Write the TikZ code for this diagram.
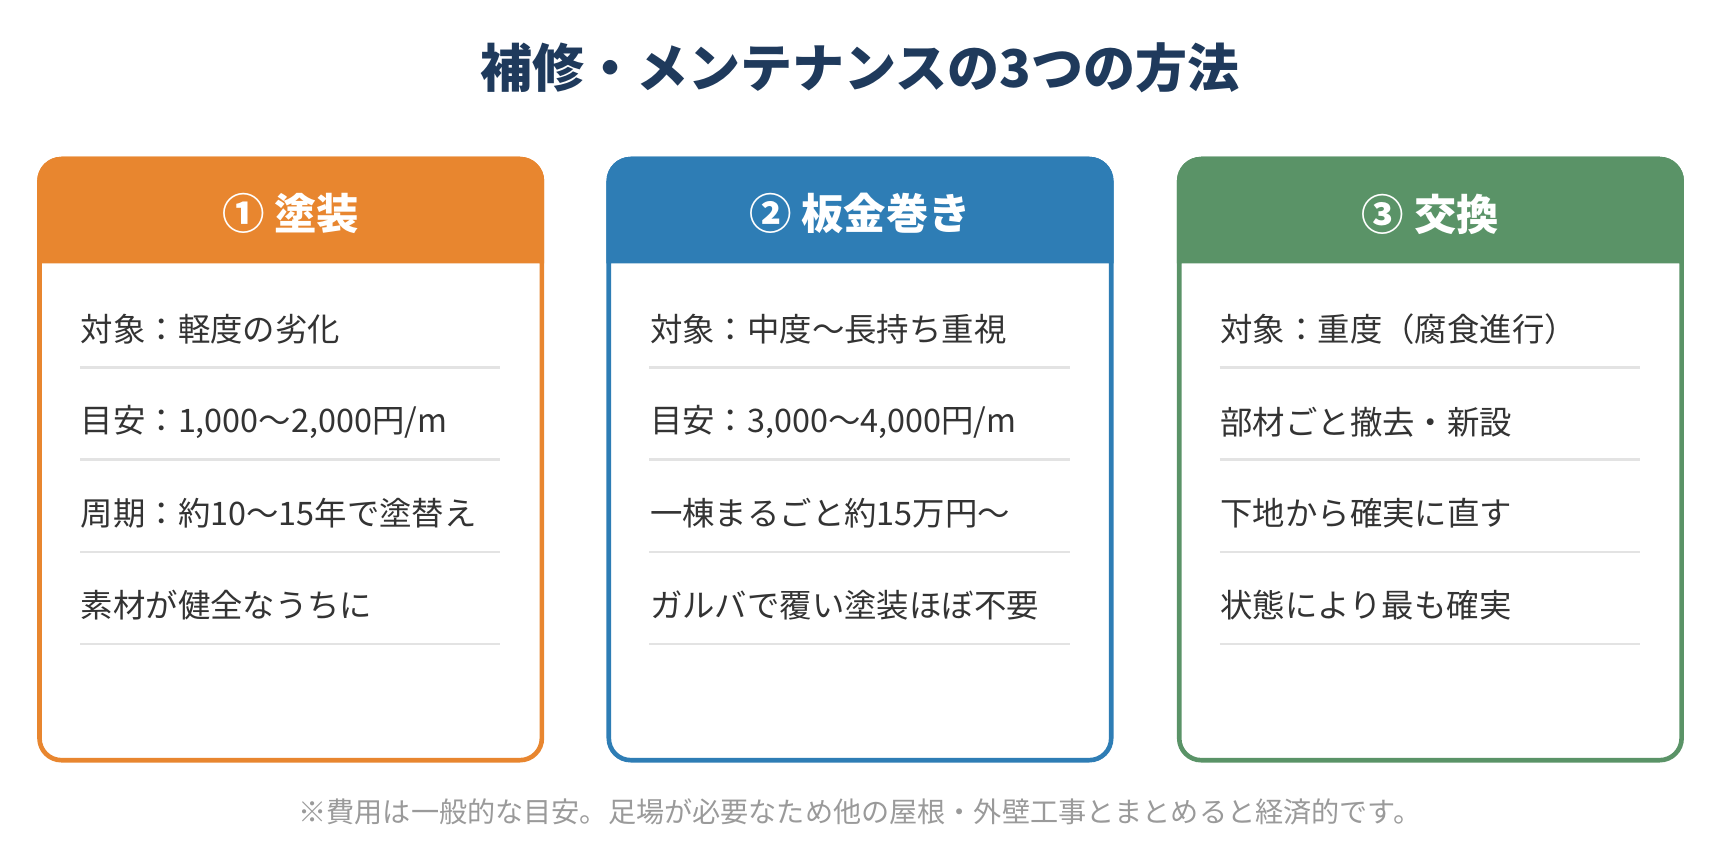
\documentclass[tikz,border=0pt]{standalone}
\usepackage{fontspec}
\setmainfont{Noto Sans CJK JP}
\definecolor{titlec}{HTML}{1F3A5C}
\definecolor{orgc}{HTML}{E8862F}
\definecolor{bluec}{HTML}{2E7DB5}
\definecolor{grnc}{HTML}{5A9367}
\definecolor{textc}{HTML}{333333}
\definecolor{rulec}{HTML}{E3E3E3}
\definecolor{notec}{HTML}{9A9A9A}
\tikzset{
  card/.style={line width=1.2pt, rounded corners=0.2cm, fill=white},
  headtext/.style={text=white, font=\bfseries\fontsize{11}{13}\selectfont},
  rowtext/.style={anchor=west, text=textc, font=\fontsize{8.4}{10}\selectfont, inner sep=0pt},
  rowline/.style={rulec, line width=0.6pt}
}
% #1 left x, #2 colour, #3 name, #4 header, #5-#8 rows
\newcommand\methodcard[8]{%
  \draw[card, draw=#2] (#1,0.91) rectangle ++(4.58,5.48);
  \fill[#2] (#1,5.44) [rounded corners=0.2cm] -- (#1,6.39) -- ++(4.58,0) [sharp corners] -- (#1+4.58,5.44) -- cycle;
  \draw[#2, line width=1.2pt, rounded corners=0.2cm] (#1,5.44) -- (#1,6.39) -- ++(4.58,0) -- (#1+4.58,5.44);
  \node[headtext] (#3h) at (#1+2.29,5.89) {#4};
  \node[rowtext] (#3a) at (#1+0.37,4.84) {#5};
  \node[rowtext] (#3b) at (#1+0.37,3.99) {#6};
  \node[rowtext] (#3c) at (#1+0.37,3.16) {#7};
  \node[rowtext] (#3d) at (#1+0.37,2.32) {#8};
  \foreach \y in {4.49,3.65,2.81,1.97}
    \draw[rowline] (#1+0.37,\y) -- (#1+4.20,\y);%
}
\begin{document}
\begin{tikzpicture}
\node[text=titlec, font=\bfseries\fontsize{13.5}{16}\selectfont] (title) at (7.84,7.22) {補修・メンテナンスの3つの方法};

\methodcard{0.36}{orgc}{paint}{① 塗装}{対象：軽度の劣化}{目安：1,000〜2,000円/m}{周期：約10〜15年で塗替え}{素材が健全なうちに}
\methodcard{5.55}{bluec}{sheet}{② 板金巻き}{対象：中度〜長持ち重視}{目安：3,000〜4,000円/m}{一棟まるごと約15万円〜}{ガルバで覆い塗装ほぼ不要}
\methodcard{10.75}{grnc}{swap}{③ 交換}{対象：重度（腐食進行）}{部材ごと撤去・新設}{下地から確実に直す}{状態により最も確実}

\node[text=notec, font=\fontsize{7.3}{9}\selectfont] (note) at (7.84,0.44) {※費用は一般的な目安。足場が必要なため他の屋根・外壁工事とまとめると経済的です。};
\pgfresetboundingbox
\useasboundingbox (0,0) rectangle (15.68,7.84);
\end{tikzpicture}
\end{document}
